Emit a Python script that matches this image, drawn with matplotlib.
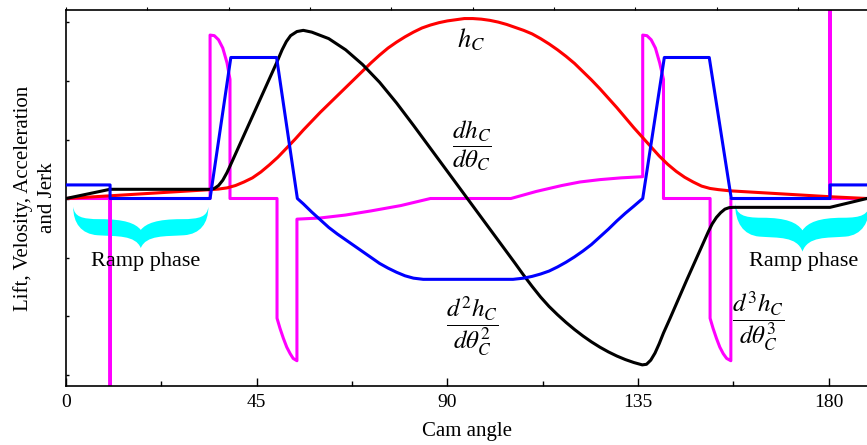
import matplotlib
matplotlib.use("Agg")
import matplotlib.pyplot as plt
from matplotlib.path import Path
from matplotlib.patches import PathPatch
from matplotlib.transforms import Affine2D

plt.rcParams['font.family'] = ['Liberation Serif', 'DejaVu Serif']
plt.rcParams['mathtext.fontset'] = 'stix'

# cam angle (deg) / normalised curves
lift_x = [0, 34, 36, 38, 40, 42, 44, 46, 48, 50, 52, 54, 56, 58, 60, 62, 64, 66, 68, 70, 72,
          74, 76, 78, 80, 82, 84, 86, 88, 90, 92, 94, 96, 98, 100, 102, 104, 106, 108, 110,
          112, 114, 116, 118, 120, 122, 124, 126, 128, 130, 132, 134, 136, 138, 140, 142,
          144, 146, 148, 150, 152, 154, 156.7, 180.3, 189]
lift_y = [0, 0.15, 0.16, 0.18, 0.22, 0.28, 0.35, 0.45, 0.57, 0.7, 0.85, 1.0, 1.16, 1.31, 1.46,
          1.6, 1.74, 1.88, 2.02, 2.16, 2.3, 2.43, 2.55, 2.65, 2.74, 2.82, 2.89, 2.94, 2.98,
          3.01, 3.03, 3.05, 3.05, 3.04, 3.02, 2.99, 2.95, 2.9, 2.85, 2.79, 2.71, 2.62, 2.52,
          2.41, 2.29, 2.15, 2.01, 1.86, 1.7, 1.54, 1.37, 1.2, 1.04, 0.88, 0.72, 0.58, 0.46,
          0.36, 0.28, 0.21, 0.17, 0.15, 0.13, 0.03, 0.0]

vel_x = [0, 10.4, 34, 35, 36, 37, 38, 38.9, 49.7, 51, 52, 53, 54.5, 56, 58, 62, 66, 70, 74,
         78, 82, 86, 90, 94, 98, 102, 106, 108, 110, 112, 114, 116, 118, 120, 122, 124, 126,
         128, 130, 132, 134, 136, 137, 138, 139, 140, 141, 142.5, 146.5, 151.6, 152.5,
         153.5, 154.5, 155.5, 156.5, 157.5, 180.3, 189]
vel_y = [0, 0.156, 0.156, 0.17, 0.22, 0.31, 0.44, 0.58, 2.3, 2.52, 2.66, 2.76, 2.83, 2.85,
         2.82, 2.71, 2.52, 2.27, 1.97, 1.62, 1.24, 0.85, 0.46, 0.07, -0.32, -0.71, -1.1,
         -1.3, -1.49, -1.67, -1.83, -1.97, -2.1, -2.22, -2.33, -2.43, -2.52, -2.6, -2.67,
         -2.73, -2.78, -2.82, -2.81, -2.74, -2.62, -2.46, -2.28, -2.04, -1.38, -0.56,
         -0.43, -0.32, -0.24, -0.18, -0.155, -0.15, -0.15, 0]

acc_x = [0, 10.4, 10.4, 34, 38.9, 49.7, 54.6, 56, 58, 60, 62, 64, 66, 68, 70, 72, 74, 76,
         78, 80, 82, 84.3, 105.5, 108, 110, 112, 114, 116, 118, 120, 122, 124, 126, 128,
         130, 132, 134, 136.1, 141.2, 151.8, 157, 180.3, 180.3, 189]
acc_y = [0.23, 0.23, 0, 0, 2.39, 2.39, 0, -0.09, -0.23, -0.36, -0.49, -0.6, -0.7, -0.8,
         -0.9, -1.0, -1.1, -1.18, -1.25, -1.31, -1.35, -1.37, -1.37, -1.35, -1.32, -1.28,
         -1.23, -1.16, -1.08, -0.99, -0.89, -0.78, -0.65, -0.52, -0.38, -0.25, -0.13, 0,
         2.39, 2.39, 0, 0, 0.23, 0.23]

jerk_x = [0, 10.4, 10.4, 10.4, 34, 34, 35, 36, 37, 38, 38.7, 38.7, 49.8, 49.8, 50.5, 51.3,
          52.1, 52.9, 53.6, 54.5, 54.5, 60, 66, 72, 79, 86, 105, 111, 117, 121.3, 126, 131,
          136.1, 136.1, 137.1, 138.1, 139.1, 140.1, 141, 141, 152, 152, 152.7, 153.5, 154.3,
          155.1, 155.9, 156.9, 156.9, 180.3, 180.3, 180.3, 189]
jerk_y = [0, 0, -4, 0, 0, 2.77, 2.76, 2.69, 2.55, 2.3, 2.02, 0, 0, -2.03, -2.2, -2.37,
          -2.52, -2.63, -2.71, -2.75, -0.35, -0.33, -0.28, -0.21, -0.12, 0, 0, 0.12, 0.22,
          0.28, 0.32, 0.35, 0.37, 2.77, 2.76, 2.69, 2.55, 2.3, 2.02, 0, 0, -2.03, -2.2,
          -2.37, -2.52, -2.63, -2.71, -2.75, 0, 0, 4, 0, 0]

x_ticks = [0, 45, 90, 135, 180]

# unit brace (u across 0..1, v up 0..1), point at the bottom middle
_brace_verts = [
    (0, 1), (0.0, 0.6), (0.06, 0.34), (0.18, 0.31),
    (0.32, 0.28), (0.46, 0.32), (0.5, 0.0),
    (0.54, 0.32), (0.68, 0.28), (0.82, 0.31),
    (0.94, 0.34), (1.0, 0.6), (1, 1),
    (0.99, 0.76), (0.94, 0.7), (0.8, 0.7),
    (0.62, 0.7), (0.54, 0.6), (0.5, 0.44),
    (0.46, 0.6), (0.38, 0.7), (0.2, 0.7),
    (0.06, 0.7), (0.01, 0.76), (0, 1),
]
_brace_codes = [Path.MOVETO] + [Path.CURVE4] * 24


def brace(ax, x0, x1, ytop, ybot):
    p = Path(_brace_verts, _brace_codes)
    t = Affine2D().scale(x1 - x0, ytop - ybot).translate(x0, ybot)
    ax.add_patch(PathPatch(t.transform_path(p), fc='#00FFFF', ec='none', zorder=1))


fig = plt.figure(figsize=(8.67, 4.45), dpi=100)
ax = fig.add_axes([66 / 867, 59 / 445, 801 / 867, 376 / 445])

ax.plot(jerk_x, jerk_y, color='#FF00FF', lw=2.2, zorder=2)
ax.plot(lift_x, lift_y, color='#FF0000', lw=2.2, zorder=3)
ax.plot(vel_x, vel_y, color='black', lw=2.2, zorder=3)
ax.plot(acc_x, acc_y, color='#0000FF', lw=2.2, zorder=4)

ax.set_xlim(0, 189.03)
ax.set_ylim(-3.178, 3.195)

ax.set_xticks(x_ticks)
ax.set_xticks([22.5, 67.5, 112.5, 157.5], minor=True)
ax.set_yticks([-3, -2, -1, 0, 1, 2, 3])
ax.set_yticklabels([])
ax.tick_params(axis='x', which='major', direction='in', length=5.5, width=1, labelsize=14, pad=6)
ax.tick_params(axis='x', which='minor', direction='in', length=3.4, width=1)
ax.tick_params(axis='y', direction='in', length=2.2, width=1)
ax.spines['right'].set_visible(False)
for s in ['left', 'bottom', 'top']:
    ax.spines[s].set_linewidth(1.2)

# the top edge carries its own small tick marks
top = ax.twiny()
top.set_xlim(0, 189.03 / 19.19)
top.set_xticks(range(0, 10))
top.set_xticklabels([])
top.tick_params(axis='x', direction='out', length=2, width=0.8)
for s in top.spines.values():
    s.set_visible(False)

ax.set_xlabel('Cam angle', fontsize=15, labelpad=8)
ax.set_ylabel('Lift, Velosity, Acceleration\nand Jerk', fontsize=15, labelpad=3,
              linespacing=1.35)

ax.text(95.6, 2.69, r'$h_C$', fontsize=19, ha='center', va='center')
ax.text(95.9, 0.9, r'$\dfrac{dh_C}{d\theta_C}$', fontsize=18, ha='center', va='center')
ax.text(95.9, -2.16, r'$\dfrac{d^2h_C}{d\theta_C^2}$', fontsize=18, ha='center', va='center')
ax.text(163.4, -2.09, r'$\dfrac{d^3h_C}{d\theta_C^3}$', fontsize=18, ha='center', va='center')

brace(ax, 1.7, 33.6, -0.14, -0.84)
brace(ax, 157.9, 189.7, -0.08, -0.9)
ax.text(18.8, -1.06, 'Ramp phase', fontsize=16, ha='center', va='center')
ax.text(174.0, -1.07, 'Ramp phase', fontsize=16, ha='center', va='center')

fig.savefig('out.png', dpi=100)
